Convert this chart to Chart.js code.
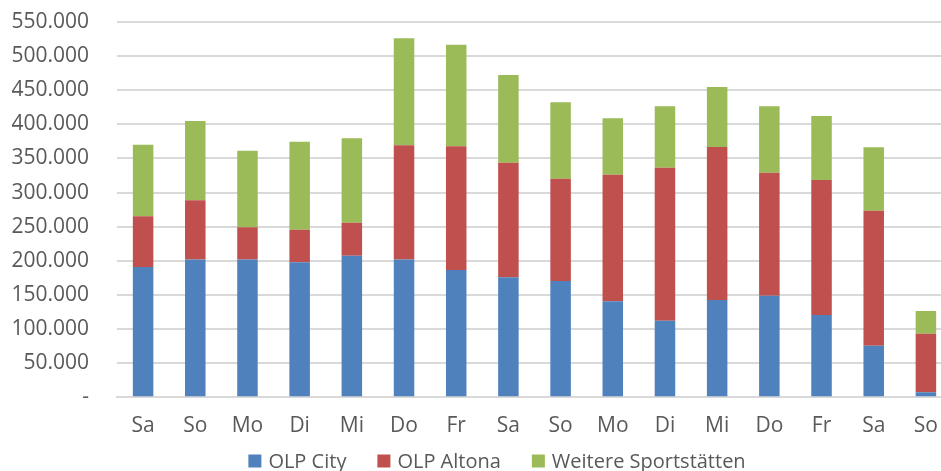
<!DOCTYPE html>
<html>
<head>
<meta charset="utf-8">
<script src="https://cdn.jsdelivr.net/npm/chart.js@4/dist/chart.umd.min.js"></script>
<style>
  html, body { margin: 0; padding: 0; background: #fff; overflow: hidden; }
  #wrap { position: relative; width: 995px; height: 471px; }
</style>
</head>
<body>
<div id="wrap"><canvas id="c" width="995" height="471"></canvas></div>
<script>
// Besucher je Tag und Veranstaltungsort
const tage = ['Sa', 'So', 'Mo', 'Di', 'Mi', 'Do', 'Fr', 'Sa', 'So', 'Mo', 'Di', 'Mi', 'Do', 'Fr', 'Sa', 'So'];
const olpCity = [191000, 202000, 202000, 198000, 207500, 202000, 186600, 175900, 170400, 140700, 112300, 142600, 148900, 120600, 75600, 7300];
const olpAltona = [74300, 86700, 47100, 47600, 48400, 167300, 181200, 167900, 150000, 185500, 224200, 224200, 180300, 197900, 197900, 85900];
const weitere = [104900, 116200, 112300, 129000, 123700, 156800, 148900, 128500, 111900, 82700, 90000, 87900, 97300, 93700, 92900, 33300];
const yMax = 550000;
const yStep = 50000;

const fmt = v => v === 0 ? '-' : v.toLocaleString('de-DE');
const FAMILY = '"Open Sans", sans-serif';
const TICK_FONT = { family: FAMILY, size: 21 };
const LEGEND_SIZE = 20;
const GREY_TEXT = '#595959';

const mk = (label, data, color) => ({
  label, data,
  backgroundColor: color,
  borderWidth: 0,
  categoryPercentage: 1.0,
  barPercentage: 0.393
});

// Legend drawn as a single centred row below the axis labels
const rowLegend = {
  id: 'rowLegend',
  afterDraw(chart, args, opts) {
    const ctx = chart.ctx;
    ctx.save();
    ctx.font = `${LEGEND_SIZE}px ${FAMILY}`;
    ctx.textBaseline = 'middle';
    const box = 13, gapText = 7, gapItem = 31;
    const items = chart.data.datasets.map(d => ({ text: d.label, color: d.backgroundColor, w: ctx.measureText(d.label).width }));
    const total = items.reduce((s, it) => s + box + gapText + it.w, 0) + gapItem * (items.length - 1);
    let x = opts.centerX - total / 2;
    const y = opts.centerY;
    items.forEach(it => {
      ctx.fillStyle = it.color;
      ctx.fillRect(x, y - box / 2, box, box);
      x += box + gapText;
      ctx.fillStyle = GREY_TEXT;
      ctx.fillText(it.text, x, y + 1);
      x += it.w + gapItem;
    });
    ctx.restore();
  }
};

new Chart(document.getElementById('c'), {
  type: 'bar',
  data: {
    labels: tage,
    datasets: [
      mk('OLP City', olpCity, '#4F81BD'),
      mk('OLP Altona', olpAltona, '#C0504D'),
      mk('Weitere Sportstätten', weitere, '#9BBB59')
    ]
  },
  plugins: [rowLegend],
  options: {
    responsive: false,
    animation: false,
    layout: { padding: { top: 22, left: 8, right: 43, bottom: 31.7 } },
    plugins: {
      legend: { display: false },
      tooltip: { enabled: false },
      rowLegend: { centerX: 497, centerY: 461 }
    },
    scales: {
      x: {
        stacked: true,
        grid: { display: false, drawTicks: false },
        border: { color: '#D9D9D9', width: 2 },
        ticks: { font: TICK_FONT, color: GREY_TEXT, padding: 16, maxRotation: 0 },
        afterFit(scale) { scale.height = 42; }
      },
      y: {
        stacked: true,
        min: 0,
        max: yMax,
        grid: { color: '#D9D9D9', lineWidth: 2, drawTicks: false },
        border: { display: false },
        ticks: {
          stepSize: yStep,
          font: TICK_FONT,
          color: GREY_TEXT,
          padding: 28,
          callback: v => fmt(v)
        },
        afterFit(scale) {
          scale.width = 109;
          scale.paddingTop = 0;
          scale.paddingBottom = 0;
        }
      }
    }
  }
});
</script>
</body>
</html>
